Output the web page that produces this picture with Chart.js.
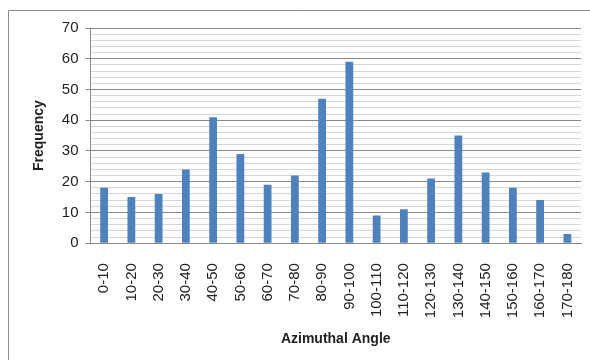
<!DOCTYPE html>
<html>
<head>
<meta charset="utf-8">
<script src="https://cdn.jsdelivr.net/npm/chart.js@4.4.1/dist/chart.umd.min.js"></script>
<style>
  html, body { margin: 0; padding: 0; background: #ffffff; }
  #wrap { position: relative; width: 590px; height: 360px; }
</style>
</head>
<body>
<div id="wrap"><canvas id="c" width="590" height="360"></canvas></div>
<script>
// Azimuthal angle bins (degrees) and counts per bin
const angleBins = ["0-10","10-20","20-30","30-40","40-50","50-60","60-70","70-80","80-90",
  "90-100","100-110","110-120","120-130","130-140","140-150","150-160","160-170","170-180"];
const frequency = [18, 15, 16, 24, 41, 29, 19, 22, 47, 59, 9, 11, 21, 35, 23, 18, 14, 3];
const yTickLabels = [0, 10, 20, 30, 40, 50, 60, 70];

const FONT = "'Liberation Sans', 'DejaVu Sans', sans-serif";

// Outer chart-area frame (left and top edges)
const framePlugin = {
  id: 'frame',
  beforeDraw(chart) {
    const ctx = chart.ctx;
    ctx.save();
    ctx.fillStyle = '#ffffff';
    ctx.fillRect(0, 0, chart.width, chart.height);
    ctx.strokeStyle = '#8c8c8c';
    ctx.lineWidth = 1;
    ctx.beginPath();
    ctx.moveTo(8.5, chart.height);
    ctx.lineTo(8.5, 10.5);
    ctx.lineTo(chart.width, 10.5);
    ctx.stroke();
    ctx.restore();
  }
};

new Chart(document.getElementById('c'), {
  type: 'bar',
  data: {
    labels: angleBins,
    datasets: [{
      label: 'Frequency',
      data: frequency,
      backgroundColor: '#4f81bd',
      borderWidth: 0,
      barPercentage: 0.55,
      categoryPercentage: 0.52
    }]
  },
  options: {
    responsive: false,
    animation: false,
    layout: { padding: { left: 27, top: 28, right: 9, bottom: 8 } },
    plugins: { legend: { display: false }, tooltip: { enabled: false } },
    scales: {
      x: {
        // keep the rotated end labels from shrinking the plot width
        afterFit(scale) { scale.paddingLeft = 0; scale.paddingRight = 0; },
        grid: { display: false },
        border: { display: true, color: '#8c8c8c' },
        ticks: {
          color: '#222222',
          font: { family: FONT, size: 15 },
          maxRotation: 90, minRotation: 90,
          padding: 12
        },
        title: {
          display: true,
          text: 'Azimuthal Angle',
          color: '#222222',
          font: { family: FONT, size: 14, weight: 'bold' },
          padding: { top: 1 }
        }
      },
      y: {
        min: 0,
        max: 70,
        afterBuildTicks(axis) {
          const t = [];
          for (let v = 0; v <= 70; v += 2) t.push({ value: v });
          axis.ticks = t;
        },
        grid: {
          color: ctx => (ctx.tick && yTickLabels.includes(ctx.tick.value)) ? '#8a8a8a' : '#d6d6d6',
          tickColor: ctx => (ctx.tick && yTickLabels.includes(ctx.tick.value)) ? '#8a8a8a' : 'rgba(0,0,0,0)',
          tickLength: 5,
          lineWidth: 1
        },
        border: { display: true, color: '#8c8c8c' },
        ticks: {
          color: '#222222',
          font: { family: FONT, size: 15 },
          padding: 7,
          autoSkip: false,
          callback: v => yTickLabels.includes(v) ? String(v) : ''
        },
        title: {
          display: true,
          text: 'Frequency',
          color: '#222222',
          font: { family: FONT, size: 14, weight: 'bold' },
          padding: { bottom: 7 }
        }
      }
    }
  },
  plugins: [framePlugin]
});
</script>
</body>
</html>
